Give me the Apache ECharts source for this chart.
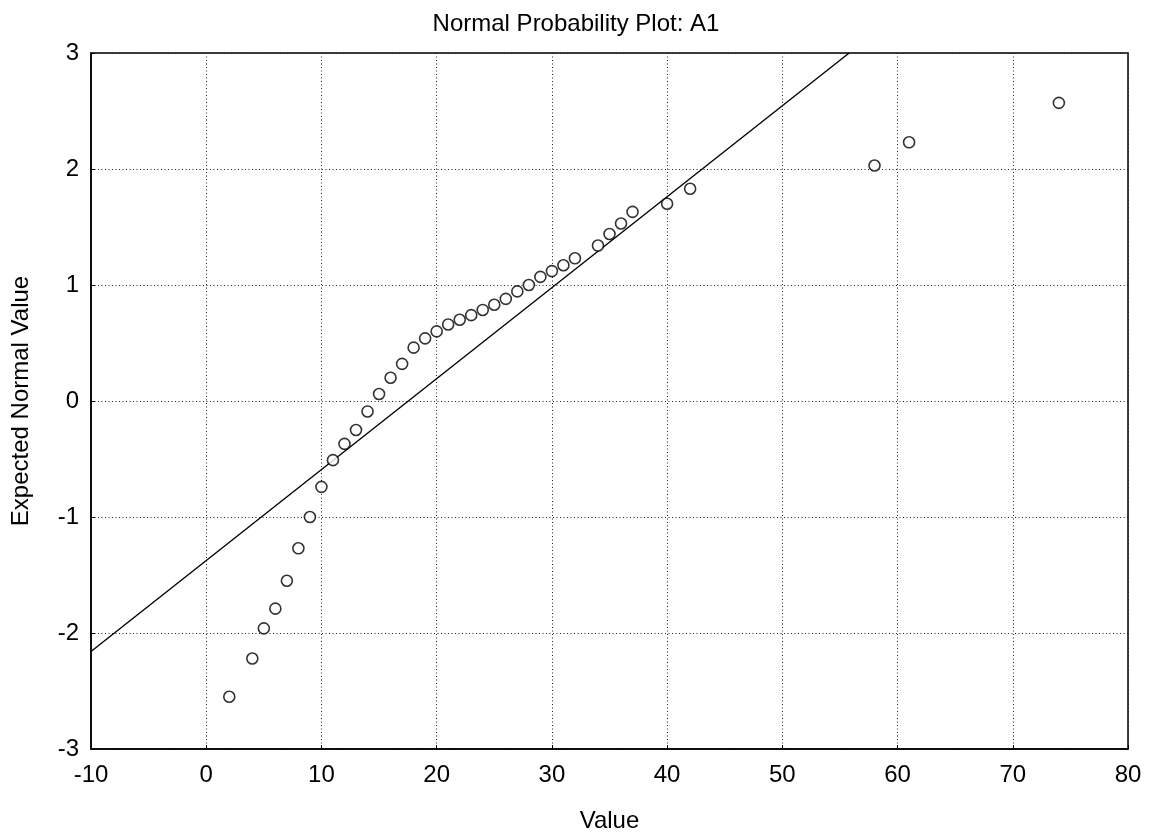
<!DOCTYPE html>
<html>
<head>
<meta charset="utf-8">
<script src="https://cdn.jsdelivr.net/npm/echarts@6/dist/echarts.min.js"></script>
<style>html,body{margin:0;padding:0;background:#fff;}#c{width:1152px;height:838px;}</style>
</head>
<body>
<div id="c"></div>
<script>
const titleText = 'Normal Probability Plot: A1';
const xName = 'Value';
const yName = 'Expected Normal Value';
const obsValues = [2,4,5,6,7,8,9,10,11,12,13,14,15,16,17,18,19,20,21,22,23,24,25,26,27,28,29,30,31,32,34,35,36,37,40,42,58,61,74];
const expectedNormal = [-2.55,-2.22,-1.96,-1.79,-1.55,-1.27,-1.00,-0.74,-0.51,-0.37,-0.25,-0.09,0.06,0.20,0.32,0.46,0.54,0.60,0.66,0.70,0.74,0.785,0.83,0.88,0.945,1.00,1.07,1.12,1.17,1.23,1.34,1.44,1.53,1.63,1.70,1.83,2.03,2.23,2.57];
const fitLineX = [-10, 55.8];
const fitLineY = [-2.16, 3.0];
const xTicks = [-10,0,10,20,30,40,50,60,70,80];
const yTicks = [-3,-2,-1,0,1,2,3];

const font = 'Liberation Sans, Arial, sans-serif';
const chart = echarts.init(document.getElementById('c'), null, {renderer:'canvas'});
const gridLine = {show:true, lineStyle:{color:'#222', type:[1,2.5], width:1}};
chart.setOption({
  animation:false,
  backgroundColor:'#fff',
  title:{text:titleText, left:'center', top:7, textStyle:{fontFamily:font, fontSize:24, fontWeight:'normal', color:'#000'}},
  grid:{left:91, top:53, right:24, bottom:86, show:true, borderColor:'#000', borderWidth:1.5, backgroundColor:'transparent'},
  xAxis:{type:'value', min:xTicks[0], max:xTicks[xTicks.length-1], interval:10,
    name:xName, nameLocation:'middle', nameGap:60,
    nameTextStyle:{fontFamily:font, fontSize:24, color:'#000'},
    axisLine:{show:true, onZero:false, lineStyle:{color:'#000', width:1.5}},
    axisTick:{show:true, inside:true, length:4, lineStyle:{color:'#000'}},
    axisLabel:{fontFamily:font, fontSize:24, color:'#000', margin:14},
    splitLine:gridLine},
  yAxis:{type:'value', min:yTicks[0], max:yTicks[yTicks.length-1], interval:1,
    name:yName, nameLocation:'middle', nameGap:58, nameRotate:90,
    nameTextStyle:{fontFamily:font, fontSize:24, color:'#000'},
    axisLine:{show:true, onZero:false, lineStyle:{color:'#000', width:1.5}},
    axisTick:{show:true, inside:true, length:4, lineStyle:{color:'#000'}},
    axisLabel:{fontFamily:font, fontSize:24, color:'#000', margin:12},
    splitLine:gridLine},
  series:[
    {type:'line', data:fitLineX.map((x,i)=>[x, fitLineY[i]]), showSymbol:false, symbol:'none',
     lineStyle:{color:'#000', width:1.4}, clip:true, z:2},
    {type:'scatter', data:obsValues.map((x,i)=>[x, expectedNormal[i]]), symbol:'circle', symbolSize:11,
     itemStyle:{color:'#fff', borderColor:'#000', borderWidth:1.6}, z:3}
  ]
});
</script>
</body>
</html>
